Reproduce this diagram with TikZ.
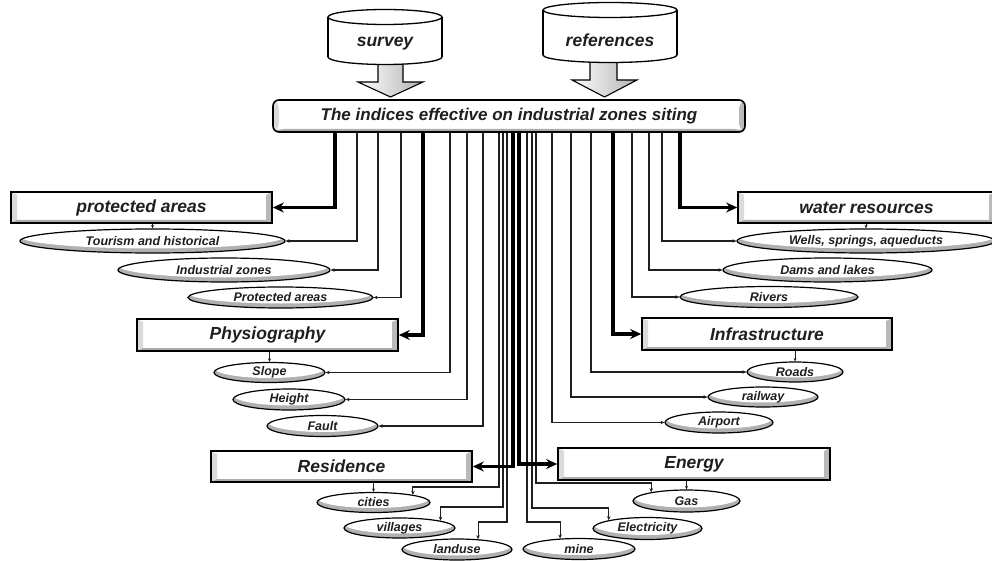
\documentclass[tikz,border=0pt]{standalone}
\usepackage{fontspec}
\setmainfont{Liberation Sans}
\usetikzlibrary{arrows.meta,shapes.geometric,calc}
\definecolor{ink}{gray}{0.12}
\begin{document}
\begin{tikzpicture}[x=1pt,y=-1pt,
  bfont/.style={font=\fontsize{17.5}{20}\selectfont\bfseries\itshape},
  efont/.style={font=\fontsize{12.5}{14}\selectfont\bfseries\itshape},
  bevel/.style={path picture={
    \fill[gray!28] (path picture bounding box.south west) -- (path picture bounding box.north west) -- ([shift={(6pt,-3pt)}]path picture bounding box.north west) -- ([shift={(6pt,3pt)}]path picture bounding box.south west) -- cycle;
    \fill[gray!55] (path picture bounding box.south east) -- (path picture bounding box.north east) -- ([shift={(-6pt,-3pt)}]path picture bounding box.north east) -- ([shift={(-6pt,3pt)}]path picture bounding box.south east) -- cycle;
    \fill[gray!65] (path picture bounding box.south west) -- (path picture bounding box.south east) -- ([shift={(-6pt,3pt)}]path picture bounding box.south east) -- ([shift={(6pt,3pt)}]path picture bounding box.south west) -- cycle;
  }},
  bx/.style 2 args={rectangle, draw=black, line width=1.6pt, fill=white, inner sep=0pt,
    minimum width=#1, minimum height=#2, bfont, text=ink, bevel},
  el/.style 2 args={ellipse, draw=black, line width=1.2pt, fill=white, inner sep=0pt,
    minimum width=#1, minimum height=#2, efont, text=ink,
    path picture={
      \fill[gray!62] (path picture bounding box.south west) rectangle (path picture bounding box.north east);
      \fill[white] ([yshift=4.5pt]path picture bounding box.center) ellipse [x radius=#1/2, y radius=#2/2];
    }},
  cyl/.style={line width=1.3pt},
  blockarrow/.style={draw=black, line width=1.1pt, left color=white, right color=gray!60},
  tl/.style={draw=ink, line width=1.1pt, -{Stealth[length=4pt,width=3.5pt]}},
  lk/.style={draw=ink, line width=1pt, -{Stealth[length=3.5pt,width=3pt]}},
  tk/.style={draw=black, line width=3.6pt, -{Stealth[length=11pt,width=10pt]}}
]
\useasboundingbox (0,0) rectangle (992,561);
\fill[white] (0,0) rectangle (992,561);

% block arrows from the sources
\path[blockarrow] (378,58) -- (403,58) -- (403,82) -- (423,82) -- (390.5,97) -- (358,82) -- (378,82) -- cycle;
\path[blockarrow] (590,54) -- (617,54) -- (617,80) -- (637,80) -- (604.5,97) -- (572,80) -- (590,80) -- cycle;

% cylinders
\filldraw[cyl, fill=white] (385,57) ellipse [x radius=57, y radius=7.5];
\fill[white] (328,17) rectangle (442,57);
\draw[cyl] (328,17) -- (328,57) (442,17) -- (442,57);
\filldraw[cyl, fill=white] (385,17) ellipse [x radius=57, y radius=7.5];
\node[bfont, text=ink] (survey) at (385,44) {survey};

\filldraw[cyl, fill=white] (610,55) ellipse [x radius=67, y radius=7.5];
\fill[white] (543,10) rectangle (677,55);
\draw[cyl] (543,10) -- (543,55) (677,10) -- (677,55);
\filldraw[cyl, fill=white] (610,10) ellipse [x radius=67, y radius=7.5];
\node[bfont, text=ink] (refs) at (610,40) {references};

% main box
\node[bx={472pt}{32pt}, rounded corners=6pt, font=\fontsize{17}{20}\selectfont\bfseries\itshape] (main) at (509,116) {The indices effective on industrial zones siting};

% category boxes
\node[bx={261pt}{31pt}] (prot) at (141.5,207.5) {protected areas\hspace{22pt}};
\node[bx={257pt}{31pt}] (water) at (866.5,207.5) {water resources};
\node[bx={261pt}{32pt}] (phys) at (267.5,335) {Physiography};
\node[bx={250pt}{32pt}] (infra) at (767,334) {Infrastructure};
\node[bx={261pt}{31pt}] (res) at (341.5,466.5) {Residence};
\node[bx={272pt}{32pt}] (energy) at (694,464) {Energy};

% ellipses
\node[el={265pt}{24pt}] (tour) at (152.5,241) {Tourism and historical};
\node[el={212pt}{24pt}] (indz) at (224,270) {Industrial zones};
\node[el={185pt}{21pt}] (parea) at (280.5,297.5) {Protected areas};
\node[el={258pt}{24pt}] (wells) at (866,241) {Wells, springs, aqueducts};
\node[el={209pt}{24pt}] (dams) at (827.5,270) {Dams and lakes};
\node[el={178pt}{21pt}] (rivers) at (769,297) {Rivers};
\node[el={111pt}{20pt}] (slope) at (269.5,372.5) {Slope};
\node[el={112pt}{21pt}] (height) at (289,399.5) {Height};
\node[el={111pt}{21pt}] (fault) at (322.5,426) {Fault};
\node[el={96pt}{20pt}] (roads) at (795,372) {Roads};
\node[el={110pt}{20pt}] (railway) at (763,397) {railway};
\node[el={108pt}{21pt}] (airport) at (719,422.5) {Airport};
\node[el={113pt}{20pt}] (cities) at (373.5,502.5) {cities};
\node[el={111pt}{20pt}] (villages) at (399.5,528) {villages};
\node[el={110pt}{21pt}] (landuse) at (457,549.5) {landuse};
\node[el={112pt}{21pt}] (mine) at (579,549) {mine};
\node[el={109pt}{22pt}] (elec) at (647.5,528.5) {Electricity};
\node[el={107pt}{22pt}] (gas) at (686.5,501) {Gas};

% bus coordinates on the bottom of the main box
\coordinate (t1) at (main.south -| 335,0);
\coordinate (a1) at (main.south -| 357,0);
\coordinate (a2) at (main.south -| 378,0);
\coordinate (a3) at (main.south -| 401,0);
\coordinate (t2) at (main.south -| 423,0);
\coordinate (p1) at (main.south -| 450,0);
\coordinate (p2) at (main.south -| 467,0);
\coordinate (p3) at (main.south -| 483,0);
\coordinate (r1) at (main.south -| 499,0);
\coordinate (r2) at (main.south -| 503,0);
\coordinate (r3) at (main.south -| 507,0);
\coordinate (t3) at (main.south -| 513,0);
\coordinate (t4) at (main.south -| 519,0);
\coordinate (e1) at (main.south -| 527,0);
\coordinate (e2) at (main.south -| 532,0);
\coordinate (e3) at (main.south -| 536,0);
\coordinate (i1) at (main.south -| 552,0);
\coordinate (i2) at (main.south -| 571,0);
\coordinate (i3) at (main.south -| 591,0);
\coordinate (t5) at (main.south -| 613,0);
\coordinate (w1) at (main.south -| 632,0);
\coordinate (w2) at (main.south -| 649,0);
\coordinate (w3) at (main.south -| 662,0);
\coordinate (t6) at (main.south -| 680,0);

% thin connectors
\draw[tl] (a1) |- (tour.east);
\draw[tl] (a2) |- (indz.east);
\draw[tl] (a3) |- (parea.east);
\draw[tl] (p1) |- (slope.east);
\draw[tl] (p2) |- (height.east);
\draw[tl] (p3) |- (fault.east);
\draw[tl] (i1) |- (airport.west);
\draw[tl] (i2) |- (railway.west);
\draw[tl] (i3) |- (roads.west);
\draw[tl] (w1) |- (rivers.west);
\draw[tl] (w2) |- (dams.west);
\draw[tl] (w3) |- (wells.west);
\draw[tl] (r1) |- (cities.11 |- 0,487) -- (cities.11);
\draw[tl] (r2) |- (villages.10 |- 0,507) -- (villages.10);
\draw[tl] (r3) |- (landuse.26 |- 0,522) -- (landuse.26);
\draw[tl] (e3) |- (gas.166 |- 0,483) -- (gas.166);
\draw[tl] (e2) |- (elec.168 |- 0,508) -- (elec.168);
\draw[tl] (e1) |- (mine.151 |- 0,522) -- (mine.151);

% box to first item links
\draw[lk] (prot.south -| tour.north) -- (tour.north);
\draw[lk] (water.south -| wells.north) -- (wells.north);
\draw[lk] (phys.south -| slope.north) -- (slope.north);
\draw[lk] (infra.south -| roads.north) -- (roads.north);
\draw[lk] (res.south -| cities.north) -- (cities.north);
\draw[lk] (energy.south -| gas.north) -- (gas.north);

% thick connectors
\draw[tk] (t1) |- (prot.east);
\draw[tk] (t2) |- (phys.east);
\draw[tk] (t6) |- (water.west);
\draw[tk] (t5) |- (infra.west);
\draw[tk] (t3) |- (res.east);
\draw[tk] (t4) |- (energy.west);
\end{tikzpicture}
\end{document}
